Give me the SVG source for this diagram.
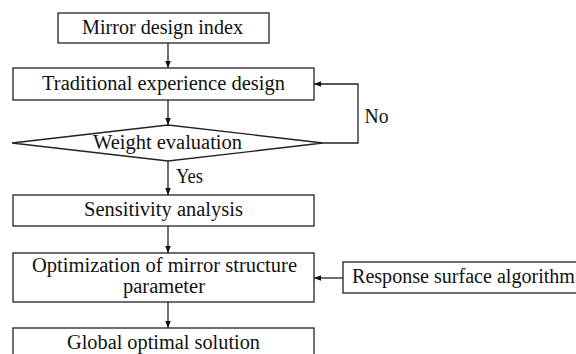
<svg xmlns="http://www.w3.org/2000/svg" width="576" height="354" viewBox="0 0 576 354">
<defs>
<style>
.box{fill:#fff;stroke:#222;stroke-width:1.3}
.t{font-family:'Liberation Serif','Times New Roman','DejaVu Serif','Noto Serif',serif;font-size:20px;fill:#111;text-anchor:middle}
.c{fill:none;stroke:#222;stroke-width:1.3}
</style>
<marker id="ah" viewBox="0 0 10 10" refX="10" refY="5" markerWidth="7" markerHeight="7" markerUnits="userSpaceOnUse" orient="auto">
<path d="M0,1 L10,5 L0,9 Z" fill="#111"/>
</marker>
</defs>
<rect width="576" height="354" fill="#fff"/>
<g id="connectors">
<line class="c" x1="168" y1="43" x2="168" y2="68" marker-end="url(#ah)"/>
<line class="c" x1="168" y1="100" x2="168" y2="125" marker-end="url(#ah)"/>
<line class="c" x1="168" y1="161" x2="168" y2="195" marker-end="url(#ah)"/>
<line class="c" x1="168" y1="226" x2="168" y2="253" marker-end="url(#ah)"/>
<line class="c" x1="168" y1="302" x2="168" y2="328" marker-end="url(#ah)"/>
<polyline class="c" points="323,143 358,143 358,84 314,84" marker-end="url(#ah)"/>
<line class="c" x1="343" y1="278" x2="314" y2="278" marker-end="url(#ah)"/>
<text class="t" x="376.5" y="123" textLength="24" lengthAdjust="spacingAndGlyphs">No</text>
<text class="t" x="189.5" y="183" textLength="27" lengthAdjust="spacingAndGlyphs">Yes</text>
</g>
<g id="n1">
<rect class="box" x="58" y="13" width="211" height="30"/>
<text class="t" x="162.5" y="33.5" textLength="161" lengthAdjust="spacingAndGlyphs">Mirror design index</text>
</g>
<g id="n2">
<rect class="box" x="13" y="68" width="301" height="32"/>
<text class="t" x="163.5" y="89.5" textLength="243" lengthAdjust="spacingAndGlyphs">Traditional experience design</text>
</g>
<g id="n3">
<polygon class="box" points="12,143 168,125 323,143 168,161"/>
<text class="t" x="167.5" y="149" textLength="149" lengthAdjust="spacingAndGlyphs">Weight evaluation</text>
</g>
<g id="n4">
<rect class="box" x="13" y="195" width="301" height="31"/>
<text class="t" x="163.5" y="216" textLength="159" lengthAdjust="spacingAndGlyphs">Sensitivity analysis</text>
</g>
<g id="n5">
<rect class="box" x="13" y="253" width="301" height="49"/>
<text class="t" x="164.5" y="272" textLength="265" lengthAdjust="spacingAndGlyphs">Optimization of mirror structure</text>
<text class="t" x="164" y="293" textLength="82" lengthAdjust="spacingAndGlyphs">parameter</text>
</g>
<g id="n6">
<rect class="box" x="13" y="328" width="301" height="40"/>
<text class="t" x="163.5" y="349" textLength="193" lengthAdjust="spacingAndGlyphs">Global optimal solution</text>
</g>
<g id="n7">
<rect class="box" x="343" y="262" width="250" height="31"/>
<text class="t" x="463.5" y="283" textLength="223" lengthAdjust="spacingAndGlyphs">Response surface algorithm</text>
</g>
</svg>
